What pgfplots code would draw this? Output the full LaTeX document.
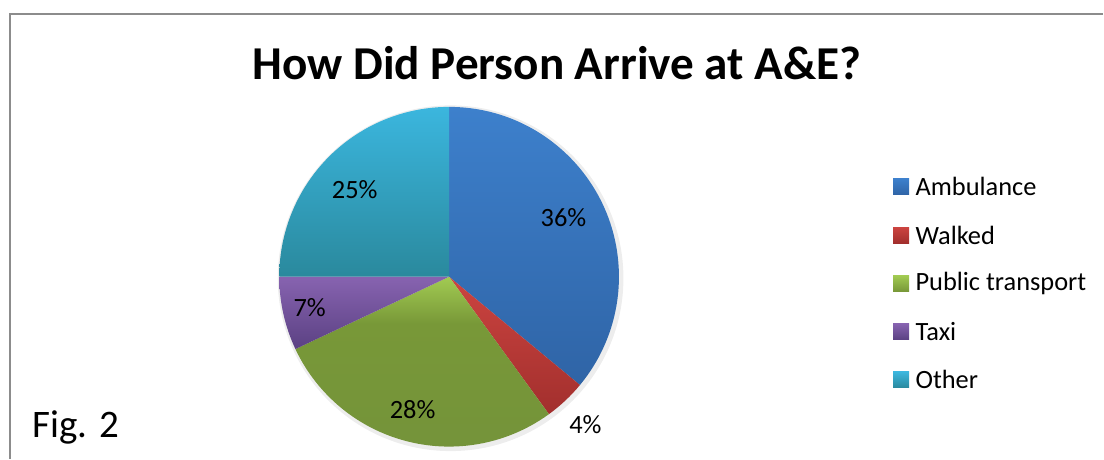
\documentclass[border=0pt]{standalone}
\usepackage{pgfplots}
\usepackage{pgfplotstable}
\pgfplotsset{compat=1.18}
\usepackage{fontspec}
\setmainfont{Carlito}

\definecolor{ambT}{HTML}{3D80CC}
\definecolor{ambB}{HTML}{2F64A6}
\definecolor{walT}{HTML}{CC4440}
\definecolor{walB}{HTML}{A22F2D}
\definecolor{pubT}{HTML}{A2CB52}
\definecolor{pubB}{HTML}{789838}
\definecolor{pubD}{HTML}{74933A}
\definecolor{taxT}{HTML}{8763B0}
\definecolor{taxB}{HTML}{5B4183}
\definecolor{othT}{HTML}{3BB6DE}
\definecolor{othB}{HTML}{2A899D}
\definecolor{frame}{HTML}{8C8C8C}

\pgfdeclareverticalshading{shamb}{100bp}{color(0bp)=(ambB); color(25bp)=(ambB); color(75bp)=(ambT); color(100bp)=(ambT)}
\pgfdeclareverticalshading{shwal}{100bp}{color(0bp)=(walB); color(25bp)=(walB); color(75bp)=(walT); color(100bp)=(walT)}
\pgfdeclareverticalshading{shpub}{100bp}{color(0bp)=(pubD); color(25bp)=(pubD); color(62bp)=(pubB); color(75bp)=(pubT); color(100bp)=(pubT)}
\pgfdeclareverticalshading{shtax}{100bp}{color(0bp)=(taxB); color(25bp)=(taxB); color(75bp)=(taxT); color(100bp)=(taxT)}
\pgfdeclareverticalshading{shoth}{100bp}{color(0bp)=(othB); color(25bp)=(othB); color(75bp)=(othT); color(100bp)=(othT)}

% value in percent; label position (px, from top-left)
\pgfplotstableread[col sep=comma]{
label,value,ctop,cbot,sh,lx,ly
Ambulance,36,ambT,ambB,shamb,564,218
Walked,4,walT,walB,shwal,586,425
Public transport,28,pubT,pubB,shpub,413,410
Taxi,7,taxT,taxB,shtax,310,308
Other,25,othT,othB,shoth,355,190
}\pietable

\begin{document}
\begin{tikzpicture}
\begin{axis}[
  hide axis, scale only axis, clip=false,
  width=552pt, height=229.5pt,
  xmin=0, xmax=1104, ymin=0, ymax=459,
]
\path (axis cs:0,0) rectangle (axis cs:1104,459);
% frame
\draw[frame, line width=1pt] (axis cs:10,0) -- (axis cs:10,445) -- (axis cs:1104,445);
% title
\node[anchor=base, inner sep=0pt, font=\fontsize{23.6}{28}\selectfont\bfseries]
  at (axis cs:557.5,379) {How Did Person Arrive at A\&E?};
\node[anchor=base west, inner sep=0pt, font=\fontsize{19.5}{24}\selectfont]
  at (axis cs:32,21) {Fig. 2};
% faint shadow
\fill[black, opacity=0.07] (axis cs:451,180.5) circle[radius=86.5pt];
\xdef\cum{0}
\pgfplotsinvokeforeach{0,...,4}{
  \pgfplotstablegetelem{#1}{value}\of\pietable
  \pgfmathtruncatemacro\vi{\pgfplotsretval}
  \pgfmathsetmacro\aS{90-3.6*\cum}
  \pgfmathsetmacro\cumnew{\cum+\vi}
  \xdef\cum{\cumnew}
  \pgfmathsetmacro\aE{90-3.6*\cum}
  \pgfplotstablegetelem{#1}{ctop}\of\pietable \edef\ct{\pgfplotsretval}
  \pgfplotstablegetelem{#1}{cbot}\of\pietable \edef\cb{\pgfplotsretval}
  \pgfplotstablegetelem{#1}{sh}\of\pietable \edef\shn{\pgfplotsretval}
  \pgfplotstablegetelem{#1}{lx}\of\pietable \edef\lx{\pgfplotsretval}
  \pgfplotstablegetelem{#1}{ly}\of\pietable \pgfmathsetmacro\ly{459-\pgfplotsretval}
  \pgfplotstablegetelem{#1}{label}\of\pietable \edef\lab{\pgfplotsretval}
  \pgfmathsetmacro\legy{459-(187+48.3*#1)}
  \pgfmathsetmacro\legya{\legy-8}
  \pgfmathsetmacro\legyb{\legy+8}
  \edef\tmp{%
    \noexpand\shade[shading=\shn]
      (axis cs:449.5,182) -- ++(\aS:85pt)
      arc[start angle=\aS, end angle=\aE, radius=85pt] -- cycle;
    \noexpand\node[font=\noexpand\fontsize{13.2}{16}\noexpand\selectfont, inner sep=0pt]
      at (axis cs:\lx,\ly) {\vi\noexpand\%};
    \noexpand\shade[top color=\ct, bottom color=\cb]
      (axis cs:894,\legya) rectangle (axis cs:910,\legyb);
    \noexpand\node[anchor=west, inner sep=0pt, font=\noexpand\fontsize{13.2}{16}\noexpand\selectfont]
      at (axis cs:916,\legy) {\lab};
  }%
  \tmp
}
\end{axis}
\end{tikzpicture}
\end{document}
